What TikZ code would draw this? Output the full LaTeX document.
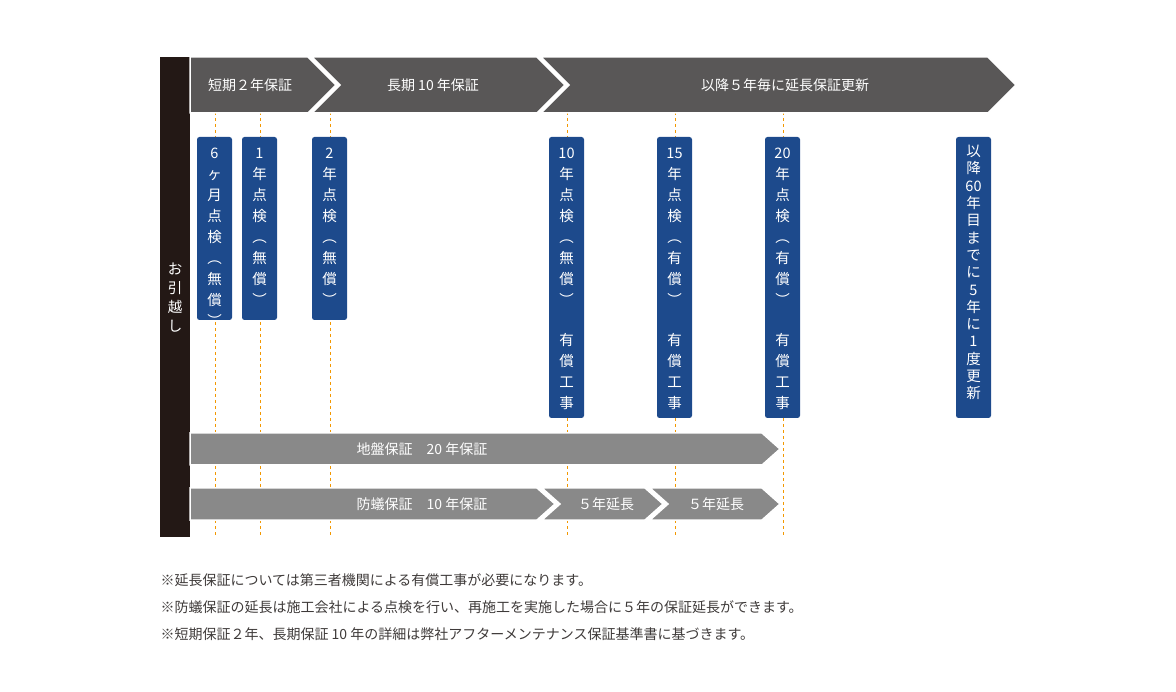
\documentclass[tikz,border=0pt]{standalone}
\usepackage{fontspec}
\setmainfont{Noto Sans CJK JP}
\begin{document}
\begin{tikzpicture}[x=1pt,y=-1pt,
  txt/.style={font=\fontsize{14}{16}\selectfont},
  vtxt/.style={font=\fontsize{14.5}{21}\selectfont,text=white,align=center,inner sep=0pt},
  box/.style={fill=boxblue,rounded corners=2.5pt},
  orline/.style={draw=dashor,dash pattern=on 3pt off 3pt,line width=1pt},
  sep/.style={draw=white,line width=1.5pt}]
\definecolor{darkbar}{HTML}{231815}
\definecolor{topgray}{HTML}{595757}
\definecolor{midgray}{HTML}{898989}
\definecolor{boxblue}{HTML}{1D4A8C}
\definecolor{dashor}{HTML}{F39800}
\definecolor{note}{HTML}{3E3A39}
\useasboundingbox (0,0) rectangle (1176,692);
% dashed lines
\foreach \x in {215,260,330,567,675,783}{\draw[orline] (\x,112) -- (\x,537);}
% left bar
\fill[darkbar] (160,57) rectangle (190,537);
\node[vtxt,font=\fontsize{14.5}{19}\selectfont] (move) at (175,298) {お\\引\\越\\し};
% top arrows
\filldraw[fill=topgray,sep] (190,57) -- (308,57) -- (336,85) -- (308,113) -- (190,113) -- cycle;
\filldraw[fill=topgray,sep] (312,57) -- (537,57) -- (565,85) -- (537,113) -- (312,113) -- (340,85) -- cycle;
\filldraw[fill=topgray,sep] (541,57) -- (988,57) -- (1016,85) -- (988,113) -- (541,113) -- (569,85) -- cycle;
\node[txt,text=white] (t1) at (250,85) {短期２年保証};
\node[txt,text=white] (t2) at (433,85) {長期 10 年保証};
\node[txt,text=white] (t3) at (785,85) {以降５年毎に延長保証更新};
% blue boxes
\fill[box] (197,137) rectangle (232,320);
\node[vtxt,anchor=north] (b1) at (214.5,148) {6\\ヶ\\月\\点\\検\\︵\\無\\償\\︶};
\fill[box] (242,137) rectangle (277,320);
\node[vtxt,anchor=north] (b2) at (259.5,148) {1\\年\\点\\検\\︵\\無\\償\\︶};
\fill[box] (312,137) rectangle (347,320);
\node[vtxt,anchor=north] (b3) at (329.5,148) {2\\年\\点\\検\\︵\\無\\償\\︶};
\fill[box] (549,137) rectangle (584,418);
\node[vtxt,anchor=north] (b4) at (566.5,148) {10\\年\\点\\検\\︵\\無\\償\\︶};
\node[vtxt,anchor=south] (b4b) at (566.5,410) {有\\償\\工\\事};
\fill[box] (657,137) rectangle (692,418);
\node[vtxt,anchor=north] (b5) at (674.5,148) {15\\年\\点\\検\\︵\\有\\償\\︶};
\node[vtxt,anchor=south] (b5b) at (674.5,410) {有\\償\\工\\事};
\fill[box] (765,137) rectangle (800,418);
\node[vtxt,anchor=north] (b6) at (782.5,148) {20\\年\\点\\検\\︵\\有\\償\\︶};
\node[vtxt,anchor=south] (b6b) at (782.5,410) {有\\償\\工\\事};
\fill[box] (956,137) rectangle (991,418);
\node[vtxt,anchor=north,font=\fontsize{14.5}{17.3}\selectfont] (b7) at (973.5,145) {以\\降\\60\\年\\目\\ま\\で\\に\\5\\年\\に\\1\\度\\更\\新};
% bottom arrows
\filldraw[fill=midgray,sep] (190,433) -- (762,433) -- (780,449) -- (762,465) -- (190,465) -- cycle;
\node[txt,text=white] (g1) at (422,449) {地盤保証　20 年保証};
\filldraw[fill=midgray,sep] (190,488) -- (537,488) -- (555,504) -- (537,520) -- (190,520) -- cycle;
\filldraw[fill=midgray,sep] (542,488) -- (645,488) -- (663,504) -- (645,520) -- (542,520) -- (560,504) -- cycle;
\filldraw[fill=midgray,sep] (650,488) -- (762,488) -- (780,504) -- (762,520) -- (650,520) -- (668,504) -- cycle;
\node[txt,text=white] (g2) at (422,504) {防蟻保証　10 年保証};
\node[txt,text=white] (g3) at (606,504) {５年延長};
\node[txt,text=white] (g4) at (716,504) {５年延長};
% notes
\node[txt,text=note,anchor=west] (n1) at (157,580) {※延長保証については第三者機関による有償工事が必要になります。};
\node[txt,text=note,anchor=west] (n2) at (157,607) {※防蟻保証の延長は施工会社による点検を行い、再施工を実施した場合に５年の保証延長ができます。};
\node[txt,text=note,anchor=west] (n3) at (157,634) {※短期保証２年、長期保証 10 年の詳細は弊社アフターメンテナンス保証基準書に基づきます。};
\end{tikzpicture}
\end{document}
